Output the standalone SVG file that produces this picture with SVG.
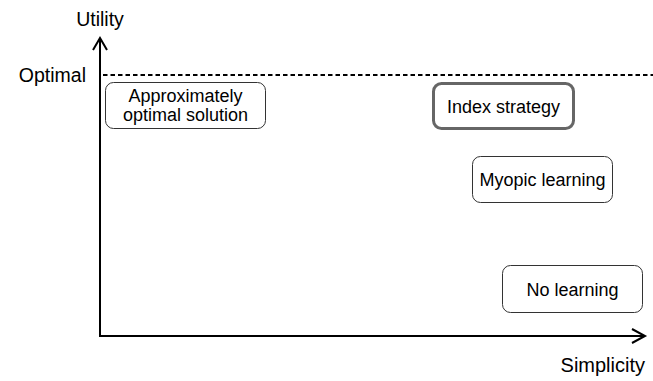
<svg xmlns="http://www.w3.org/2000/svg" width="653" height="381" viewBox="0 0 653 381">
<style>
.lbl{font-family:"Liberation Sans",Arial,sans-serif;font-size:19.5px;fill:#000}
.txt{font-family:"Liberation Sans",Arial,sans-serif;font-size:18px;fill:#000;text-anchor:middle}
.box{fill:#fff;stroke:#333;stroke-width:1}
.axis{fill:none;stroke:#000;stroke-width:2}
</style>
<rect width="653" height="381" fill="#fff"/>
<g id="connectors">
<line x1="103" y1="75" x2="653" y2="75" stroke="#000" stroke-width="2" stroke-dasharray="4.5 3"/>
<polyline class="axis" points="100,38 100,336 645,336"/>
<polyline class="axis" points="93,50 100,38 107,50"/>
<polyline class="axis" points="632,329 645,336 632,343"/>
</g>
<g id="utility"><text class="lbl" x="100" y="26" text-anchor="middle">Utility</text></g>
<g id="optimal"><text class="lbl" x="86" y="82" text-anchor="end">Optimal</text></g>
<g id="simplicity"><text class="lbl" x="645" y="372" text-anchor="end" style="font-size:20px">Simplicity</text></g>
<g id="approx">
<rect class="box" x="105.5" y="82.5" width="160" height="46" rx="8"/>
<text class="txt" x="185.5" y="102">Approximately</text>
<text class="txt" x="185.5" y="121">optimal solution</text>
</g>
<g id="index">
<rect x="433.5" y="83.5" width="140" height="45" rx="8" fill="#fff" stroke="#666" stroke-width="3"/>
<text class="txt" x="503.5" y="112.5">Index strategy</text>
</g>
<g id="myopic">
<rect class="box" x="472.5" y="156.5" width="140" height="46" rx="8"/>
<text class="txt" x="542.5" y="186">Myopic learning</text>
</g>
<g id="nolearning">
<rect class="box" x="502.5" y="265.5" width="140" height="47" rx="8"/>
<text class="txt" x="572.5" y="295.5">No learning</text>
</g>
</svg>
